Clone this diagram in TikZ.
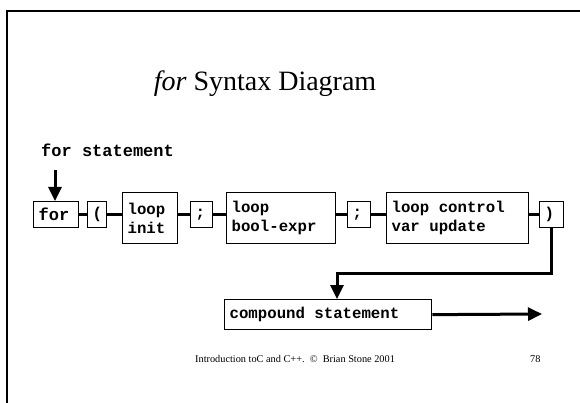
\documentclass[tikz,border=0pt]{standalone}
\usepackage{fontspec}
\setmainfont{Liberation Serif}
\newfontfamily\synfont{Liberation Mono}
\usetikzlibrary{arrows.meta}
\tikzset{
  syn/.style={draw, line width=1.3pt, anchor=north west, align=flush left,
    inner xsep=5pt, inner ysep=0pt,
    font=\synfont\bfseries\fontsize{15.7}{19}\selectfont},
  link/.style={line width=3pt},
  flow/.style={line width=3pt, -{Triangle[length=14pt,width=13pt]}}
}
\begin{document}
\begin{tikzpicture}[x=1pt,y=-1pt]
  \useasboundingbox (0,0) rectangle (580,403);
  \draw[line width=2pt] (7,403) -- (7,11) -- (580,11);
  \node[anchor=base] (title) at (265,91) {\fontsize{28}{32}\selectfont\textit{for} Syntax Diagram};
  \node[anchor=base west, inner sep=0pt, font=\synfont\bfseries\fontsize{17}{20}\selectfont]
    (label) at (41,157) {for statement};
  \node[syn, text width=35pt, minimum height=26pt,
    font=\synfont\bfseries\fontsize{17}{20}\selectfont] (kwfor) at (33,201) {for};
  \node[syn, text width=9pt, minimum height=26pt] (lparen) at (87,201) {(};
  \node[syn, text width=45pt, minimum height=51pt] (init) at (122,192) {loop\\init};
  \node[syn, text width=12pt, minimum height=26pt] (semia) at (190,201) {;};
  \node[syn, text width=99pt, minimum height=51pt] (cond) at (226,192) {loop\\bool-expr};
  \node[syn, text width=13pt, minimum height=26pt] (semib) at (347,201) {;};
  \node[syn, text width=132pt, minimum height=51pt] (update) at (386,192) {loop control\\var update};
  \node[syn, text width=14pt, minimum height=26pt] (rparen) at (539,201) {)};
  \node[syn, text width=197pt, minimum height=30pt] (body) at (224,299) {compound statement};
  \coordinate (start) at (55,170);
  \coordinate (bend) at (337,273);
  \coordinate (exit) at (542,314);
  \begin{scope}[link]
    \draw (kwfor.east) -- (kwfor.east -| lparen.west);
    \draw (lparen.east) -- (lparen.east -| init.west);
    \draw (semia.west -| init.east) -- (semia.west);
    \draw (semia.east) -- (semia.east -| cond.west);
    \draw (semib.west -| cond.east) -- (semib.west);
    \draw (semib.east) -- (semib.east -| update.west);
    \draw (rparen.west -| update.east) -- (rparen.west);
  \end{scope}
  \draw[flow] (start) -- (start |- kwfor.north);
  \draw[flow] (rparen.south) |- (bend) -- (bend |- body.north);
  \draw[flow] (body.east) -- (exit);
  \node[anchor=base west, inner sep=0pt, font=\fontsize{10.3}{12}\selectfont]
    (footer) at (195,362) {Introduction toC and C++.\ \ \textcopyright\ \ Brian Stone 2001};
  \node[anchor=base west, inner sep=0pt, font=\fontsize{10.3}{12}\selectfont]
    (page) at (530,362) {78};
\end{tikzpicture}
\end{document}
